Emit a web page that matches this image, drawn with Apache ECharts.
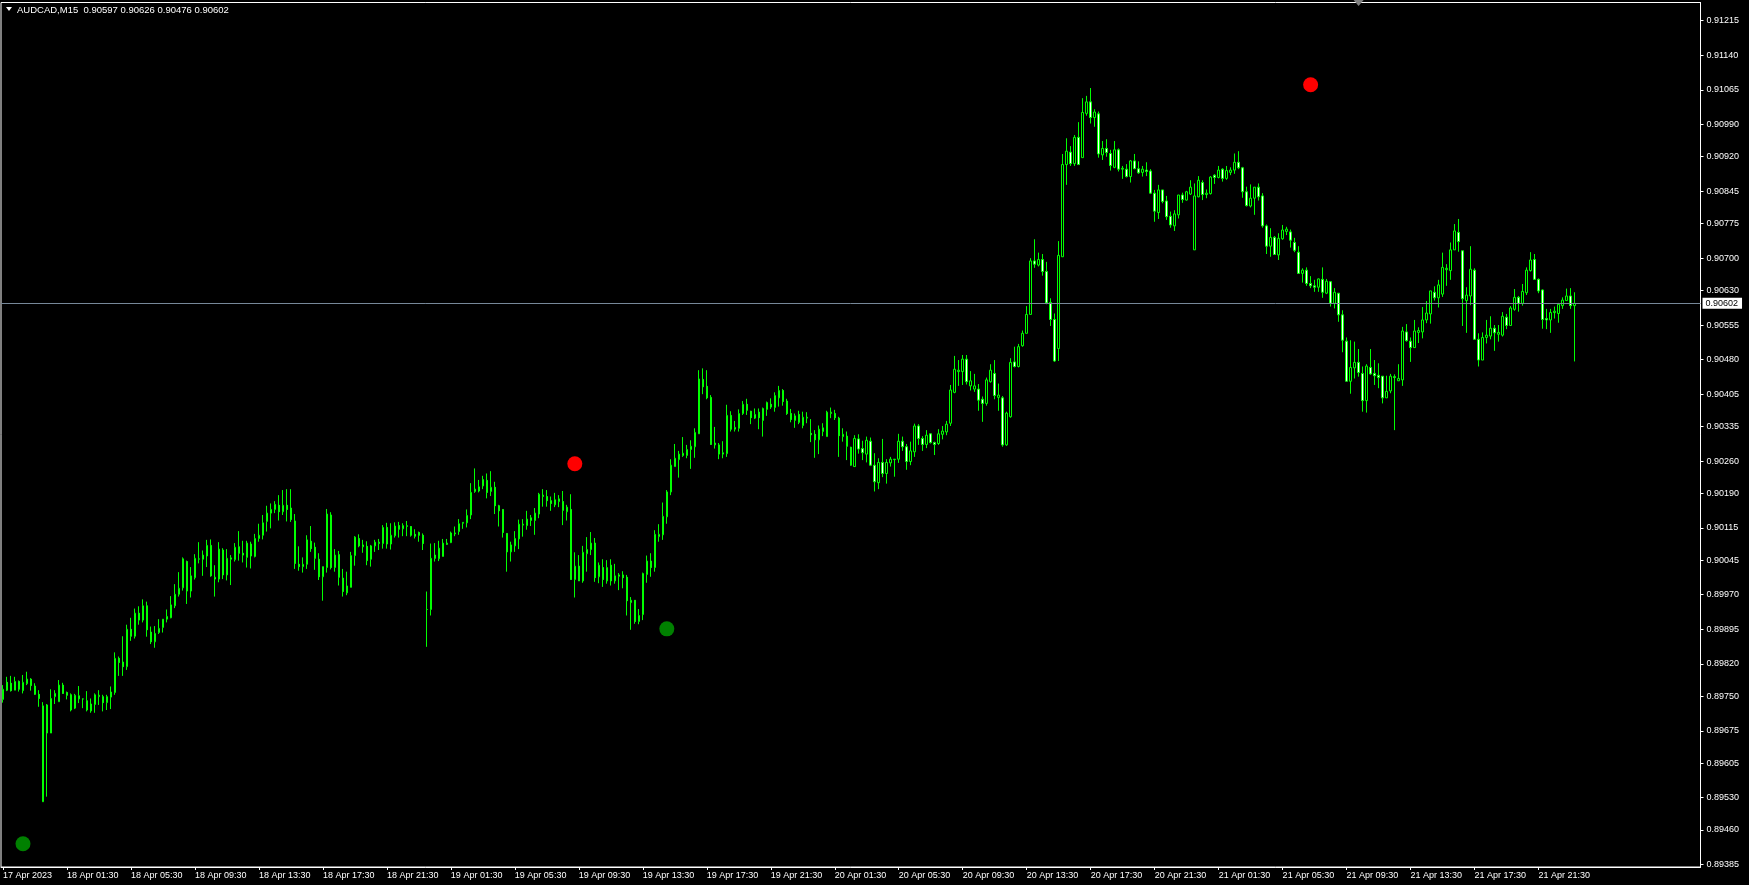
<!DOCTYPE html>
<html><head><meta charset="utf-8">
<script src="https://cdn.jsdelivr.net/npm/echarts@6/dist/echarts.min.js"></script>
<style>html,body{margin:0;padding:0;background:#000;overflow:hidden}#c{width:1749px;height:885px}</style>
</head><body><div id="c"></div>
<script>
const symbolName = 'AUDCAD,M15';
const firstBarUTC = [2023, 3, 17, 21, 30]; // 17 Apr 2023 21:30, M15 bars
const barMinutes = 15;
const totalSlots = 425; // bars + right-hand chart shift
const timeLabels = ['17 Apr 2023','18 Apr 01:30','18 Apr 05:30','18 Apr 09:30','18 Apr 13:30','18 Apr 17:30','18 Apr 21:30',
  '19 Apr 01:30','19 Apr 05:30','19 Apr 09:30','19 Apr 13:30','19 Apr 17:30','19 Apr 21:30',
  '20 Apr 01:30','20 Apr 05:30','20 Apr 09:30','20 Apr 13:30','20 Apr 17:30','20 Apr 21:30',
  '21 Apr 01:30','21 Apr 05:30','21 Apr 09:30','21 Apr 13:30','21 Apr 17:30','21 Apr 21:30'];
const labelEvery = 16;
const priceTicks = ['0.91215','0.91140','0.91065','0.90990','0.90920','0.90845','0.90775','0.90700','0.90630','0.90555',
  '0.90480','0.90405','0.90335','0.90260','0.90190','0.90115','0.90045','0.89970','0.89895','0.89820','0.89750',
  '0.89675','0.89605','0.89530','0.89460','0.89385'];
// [open, high, low, close]
const ohlc = [
[0.89743,0.89774,0.89736,0.89765],[0.89780,0.89792,0.89761,0.89763],[0.89778,0.89794,0.89760,0.89762],[0.89763,0.89792,0.89763,0.89782],
[0.89782,0.89784,0.89760,0.89765],[0.89762,0.89796,0.89756,0.89780],[0.89777,0.89803,0.89774,0.89787],[0.89787,0.89789,0.89762,0.89773],
[0.89772,0.89778,0.89753,0.89754],[0.89754,0.89763,0.89727,0.89745],[0.89521,0.89737,0.89521,0.89729],[0.89731,0.89733,0.89532,0.89670],
[0.89670,0.89765,0.89670,0.89745],[0.89749,0.89763,0.89733,0.89756],[0.89738,0.89785,0.89738,0.89774],[0.89774,0.89779,0.89755,0.89756],
[0.89758,0.89760,0.89743,0.89752],[0.89753,0.89756,0.89717,0.89720],[0.89724,0.89755,0.89722,0.89752],[0.89744,0.89772,0.89735,0.89751],
[0.89744,0.89745,0.89724,0.89744],[0.89740,0.89761,0.89717,0.89720],[0.89718,0.89745,0.89714,0.89733],[0.89732,0.89756,0.89714,0.89753],
[0.89749,0.89763,0.89731,0.89752],[0.89749,0.89753,0.89717,0.89736],[0.89736,0.89753,0.89720,0.89749],[0.89748,0.89771,0.89722,0.89759],
[0.89758,0.89845,0.89753,0.89832],[0.89832,0.89836,0.89794,0.89823],[0.89824,0.89880,0.89794,0.89814],[0.89814,0.89905,0.89807,0.89895],
[0.89895,0.89920,0.89870,0.89880],[0.89880,0.89940,0.89875,0.89930],[0.89930,0.89945,0.89905,0.89915],[0.89915,0.89960,0.89910,0.89946],
[0.89946,0.89955,0.89879,0.89894],[0.89889,0.89901,0.89863,0.89868],[0.89868,0.89902,0.89855,0.89886],[0.89888,0.89917,0.89885,0.89897],
[0.89899,0.89917,0.89888,0.89917],[0.89917,0.89938,0.89910,0.89923],[0.89920,0.89967,0.89919,0.89948],[0.89946,0.89993,0.89941,0.89971],
[0.89971,0.90019,0.89966,0.89984],[0.89985,0.90051,0.89979,0.90048],[0.90042,0.90044,0.89950,0.89978],[0.89978,0.90030,0.89964,0.90011],
[0.90007,0.90058,0.90003,0.90049],[0.90047,0.90084,0.90038,0.90048],[0.90047,0.90066,0.90011,0.90056],[0.90054,0.90089,0.90030,0.90077],
[0.90077,0.90090,0.90009,0.90011],[0.90004,0.90034,0.89966,0.90008],[0.90004,0.90084,0.89997,0.90069],[0.90067,0.90071,0.90004,0.90013],
[0.90013,0.90069,0.90001,0.90049],[0.90047,0.90056,0.89991,0.90050],[0.90046,0.90082,0.90042,0.90073],[0.90074,0.90108,0.90044,0.90060],
[0.90060,0.90087,0.90040,0.90056],[0.90051,0.90087,0.90029,0.90082],[0.90080,0.90085,0.90027,0.90054],[0.90053,0.90102,0.90051,0.90092],
[0.90092,0.90124,0.90085,0.90099],[0.90099,0.90143,0.90090,0.90126],[0.90129,0.90163,0.90107,0.90147],[0.90147,0.90168,0.90114,0.90155],
[0.90155,0.90173,0.90147,0.90166],[0.90164,0.90186,0.90131,0.90150],[0.90150,0.90197,0.90143,0.90164],[0.90164,0.90199,0.90129,0.90155],
[0.90158,0.90199,0.90128,0.90133],[0.90130,0.90145,0.90026,0.90038],[0.90036,0.90075,0.90022,0.90031],[0.90031,0.90051,0.90018,0.90036],
[0.90036,0.90099,0.90026,0.90089],[0.90086,0.90119,0.90063,0.90070],[0.90073,0.90083,0.90024,0.90049],[0.90047,0.90060,0.90002,0.90009],
[0.90009,0.90031,0.89957,0.90031],[0.90029,0.90156,0.90018,0.90145],[0.90143,0.90149,0.90025,0.90029],[0.90029,0.90069,0.90020,0.90056],
[0.90057,0.90065,0.89990,0.90008],[0.90006,0.90026,0.89966,0.89977],[0.89974,0.90020,0.89969,0.89989],[0.89986,0.90063,0.89986,0.90055],
[0.90055,0.90097,0.90033,0.90095],[0.90092,0.90101,0.90073,0.90076],[0.90074,0.90089,0.90061,0.90078],[0.90075,0.90086,0.90034,0.90044],
[0.90047,0.90078,0.90031,0.90076],[0.90076,0.90089,0.90063,0.90084],[0.90081,0.90091,0.90067,0.90084],[0.90081,0.90121,0.90070,0.90116],
[0.90116,0.90126,0.90070,0.90080],[0.90080,0.90125,0.90068,0.90099],[0.90098,0.90127,0.90094,0.90119],[0.90120,0.90128,0.90094,0.90112],
[0.90113,0.90125,0.90097,0.90120],[0.90118,0.90130,0.90097,0.90120],[0.90118,0.90119,0.90096,0.90099],[0.90101,0.90112,0.90092,0.90097],
[0.90105,0.90107,0.90085,0.90099],[0.90099,0.90103,0.90067,0.90081],[0.89938,0.89977,0.89857,0.89938],[0.89938,0.90081,0.89925,0.90049],
[0.90056,0.90082,0.90042,0.90049],[0.90048,0.90087,0.90043,0.90071],[0.90053,0.90091,0.90053,0.90082],[0.90079,0.90091,0.90078,0.90082],
[0.90083,0.90107,0.90082,0.90104],[0.90102,0.90118,0.90097,0.90104],[0.90107,0.90134,0.90100,0.90124],[0.90125,0.90127,0.90113,0.90127],
[0.90126,0.90155,0.90116,0.90142],[0.90143,0.90212,0.90134,0.90192],[0.90194,0.90244,0.90191,0.90199],[0.90195,0.90219,0.90192,0.90204],
[0.90206,0.90228,0.90199,0.90220],[0.90218,0.90233,0.90179,0.90192],[0.90194,0.90238,0.90184,0.90203],[0.90203,0.90215,0.90145,0.90163],
[0.90163,0.90165,0.90118,0.90152],[0.90155,0.90155,0.90094,0.90105],[0.90103,0.90103,0.90020,0.90063],[0.90063,0.90085,0.90042,0.90078],
[0.90076,0.90108,0.90063,0.90092],[0.90091,0.90133,0.90069,0.90123],[0.90121,0.90134,0.90096,0.90123],[0.90120,0.90152,0.90111,0.90134],
[0.90131,0.90143,0.90119,0.90137],[0.90131,0.90158,0.90100,0.90147],[0.90145,0.90191,0.90136,0.90188],[0.90183,0.90199,0.90161,0.90186],
[0.90183,0.90197,0.90161,0.90174],[0.90174,0.90183,0.90152,0.90168],[0.90165,0.90191,0.90160,0.90176],[0.90172,0.90186,0.90160,0.90178],
[0.90172,0.90195,0.90121,0.90153],[0.90150,0.90165,0.90131,0.90160],[0.90155,0.90188,0.90003,0.90003],[0.90003,0.90062,0.89964,0.90032],
[0.90032,0.90056,0.90000,0.90000],[0.90000,0.90076,0.89996,0.90062],[0.90059,0.90095,0.90020,0.90068],[0.90068,0.90106,0.90056,0.90082],
[0.90082,0.90093,0.89998,0.90007],[0.90009,0.90040,0.89995,0.90034],[0.90029,0.90047,0.89987,0.90003],[0.90000,0.90045,0.89994,0.90029],
[0.90034,0.90047,0.89990,0.90000],[0.90000,0.90037,0.89994,0.90011],[0.90010,0.90017,0.89980,0.90013],[0.90013,0.90021,0.89984,0.90007],
[0.90008,0.90013,0.89925,0.89957],[0.89953,0.89965,0.89894,0.89958],[0.89958,0.89958,0.89907,0.89912],[0.89912,0.89939,0.89906,0.89925],
[0.89927,0.90018,0.89915,0.90016],[0.90014,0.90055,0.89996,0.90043],[0.90043,0.90060,0.90009,0.90029],[0.90029,0.90110,0.90020,0.90101],
[0.90096,0.90123,0.90085,0.90101],[0.90100,0.90170,0.90089,0.90140],[0.90139,0.90197,0.90124,0.90193],[0.90193,0.90264,0.90186,0.90251],
[0.90248,0.90297,0.90248,0.90266],[0.90263,0.90282,0.90224,0.90275],[0.90272,0.90312,0.90269,0.90277],[0.90272,0.90295,0.90266,0.90285],
[0.90285,0.90305,0.90243,0.90292],[0.90291,0.90331,0.90267,0.90322],[0.90319,0.90457,0.90319,0.90438],[0.90437,0.90461,0.90405,0.90421],
[0.90422,0.90457,0.90394,0.90397],[0.90398,0.90403,0.90295,0.90296],[0.90295,0.90334,0.90287,0.90299],[0.90295,0.90299,0.90264,0.90275],
[0.90275,0.90303,0.90266,0.90278],[0.90276,0.90382,0.90269,0.90359],[0.90359,0.90368,0.90324,0.90329],[0.90329,0.90347,0.90324,0.90333],
[0.90331,0.90372,0.90324,0.90363],[0.90363,0.90390,0.90360,0.90383],[0.90383,0.90395,0.90360,0.90370],[0.90368,0.90369,0.90340,0.90354],
[0.90353,0.90374,0.90351,0.90361],[0.90366,0.90374,0.90329,0.90354],[0.90348,0.90376,0.90313,0.90374],[0.90372,0.90389,0.90358,0.90387],
[0.90383,0.90396,0.90373,0.90377],[0.90376,0.90409,0.90367,0.90402],[0.90397,0.90423,0.90378,0.90413],[0.90413,0.90416,0.90380,0.90389],
[0.90390,0.90395,0.90360,0.90363],[0.90363,0.90373,0.90344,0.90350],[0.90348,0.90363,0.90332,0.90358],[0.90361,0.90369,0.90340,0.90344],
[0.90337,0.90367,0.90331,0.90355],[0.90353,0.90366,0.90342,0.90355],[0.90320,0.90351,0.90301,0.90317],[0.90318,0.90327,0.90267,0.90306],
[0.90306,0.90337,0.90275,0.90329],[0.90324,0.90342,0.90314,0.90332],[0.90313,0.90369,0.90313,0.90366],[0.90363,0.90376,0.90353,0.90366],
[0.90363,0.90371,0.90349,0.90354],[0.90353,0.90356,0.90269,0.90315],[0.90313,0.90331,0.90302,0.90318],[0.90314,0.90324,0.90262,0.90292],
[0.90290,0.90291,0.90250,0.90251],[0.90248,0.90316,0.90248,0.90309],[0.90308,0.90318,0.90276,0.90286],[0.90287,0.90304,0.90262,0.90278],
[0.90275,0.90313,0.90257,0.90305],[0.90303,0.90311,0.90249,0.90251],[0.90251,0.90277,0.90194,0.90215],[0.90213,0.90266,0.90199,0.90257],
[0.90257,0.90308,0.90225,0.90233],[0.90233,0.90264,0.90211,0.90257],[0.90256,0.90269,0.90248,0.90264],[0.90263,0.90264,0.90226,0.90264],
[0.90264,0.90319,0.90256,0.90303],[0.90303,0.90313,0.90282,0.90291],[0.90291,0.90297,0.90241,0.90259],[0.90259,0.90302,0.90251,0.90282],
[0.90280,0.90341,0.90269,0.90336],[0.90336,0.90340,0.90295,0.90309],[0.90309,0.90314,0.90282,0.90296],[0.90296,0.90327,0.90288,0.90316],
[0.90319,0.90320,0.90298,0.90300],[0.90300,0.90302,0.90273,0.90296],[0.90298,0.90329,0.90295,0.90319],[0.90318,0.90336,0.90307,0.90325],
[0.90323,0.90347,0.90316,0.90340],[0.90342,0.90425,0.90336,0.90414],[0.90409,0.90488,0.90407,0.90459],[0.90454,0.90479,0.90423,0.90457],
[0.90454,0.90490,0.90425,0.90481],[0.90481,0.90490,0.90426,0.90432],[0.90423,0.90455,0.90413,0.90434],[0.90416,0.90449,0.90410,0.90423],
[0.90416,0.90427,0.90369,0.90392],[0.90394,0.90400,0.90345,0.90385],[0.90385,0.90441,0.90380,0.90436],[0.90432,0.90470,0.90430,0.90457],
[0.90450,0.90479,0.90394,0.90402],[0.90398,0.90428,0.90369,0.90403],[0.90397,0.90401,0.90291,0.90295],[0.90295,0.90367,0.90293,0.90364],
[0.90356,0.90483,0.90354,0.90474],[0.90475,0.90508,0.90463,0.90465],[0.90465,0.90514,0.90463,0.90508],[0.90510,0.90543,0.90508,0.90537],
[0.90537,0.90596,0.90537,0.90578],[0.90578,0.90700,0.90578,0.90694],[0.90694,0.90741,0.90679,0.90687],[0.90685,0.90712,0.90682,0.90697],
[0.90697,0.90709,0.90662,0.90671],[0.90671,0.90692,0.90600,0.90603],[0.90604,0.90613,0.90553,0.90567],[0.90567,0.90580,0.90475,0.90477],
[0.90504,0.90737,0.90477,0.90706],[0.90703,0.90926,0.90703,0.90903],[0.90903,0.90960,0.90859,0.90932],[0.90930,0.90943,0.90900,0.90905],
[0.90905,0.90967,0.90900,0.90962],[0.90962,0.90995,0.90902,0.90903],[0.90918,0.91047,0.90918,0.91016],[0.91014,0.91052,0.91009,0.91039],
[0.91039,0.91069,0.90992,0.91005],[0.91005,0.91023,0.90985,0.91017],[0.91013,0.91018,0.90918,0.90926],[0.90924,0.90954,0.90913,0.90938],
[0.90938,0.90958,0.90920,0.90929],[0.90927,0.90935,0.90890,0.90901],[0.90897,0.90954,0.90895,0.90935],[0.90935,0.90938,0.90888,0.90893],
[0.90893,0.90900,0.90872,0.90895],[0.90893,0.90904,0.90875,0.90877],[0.90877,0.90913,0.90864,0.90911],[0.90911,0.90926,0.90893,0.90894],
[0.90894,0.90910,0.90883,0.90885],[0.90886,0.90900,0.90877,0.90893],[0.90891,0.90908,0.90878,0.90888],[0.90889,0.90893,0.90839,0.90841],
[0.90841,0.90848,0.90779,0.90802],[0.90799,0.90859,0.90785,0.90848],[0.90848,0.90848,0.90819,0.90823],[0.90824,0.90835,0.90783,0.90790],
[0.90791,0.90801,0.90766,0.90772],[0.90770,0.90804,0.90759,0.90796],[0.90794,0.90837,0.90786,0.90837],[0.90837,0.90842,0.90820,0.90827],
[0.90826,0.90846,0.90825,0.90844],[0.90839,0.90869,0.90837,0.90854],[0.90718,0.90862,0.90718,0.90835],[0.90833,0.90878,0.90832,0.90869],
[0.90864,0.90869,0.90826,0.90838],[0.90838,0.90849,0.90830,0.90841],[0.90840,0.90878,0.90838,0.90876],[0.90880,0.90882,0.90861,0.90875],
[0.90875,0.90900,0.90873,0.90891],[0.90893,0.90895,0.90866,0.90873],[0.90873,0.90900,0.90870,0.90890],[0.90886,0.90897,0.90880,0.90891],
[0.90891,0.90927,0.90883,0.90908],[0.90908,0.90932,0.90893,0.90896],[0.90896,0.90898,0.90831,0.90844],[0.90844,0.90855,0.90812,0.90814],
[0.90813,0.90860,0.90810,0.90830],[0.90830,0.90854,0.90794,0.90854],[0.90854,0.90862,0.90825,0.90833],[0.90835,0.90841,0.90766,0.90770],
[0.90770,0.90773,0.90709,0.90726],[0.90726,0.90765,0.90703,0.90745],[0.90745,0.90748,0.90707,0.90708],[0.90707,0.90754,0.90696,0.90743],
[0.90742,0.90772,0.90740,0.90761],[0.90758,0.90768,0.90750,0.90763],[0.90757,0.90762,0.90723,0.90739],[0.90734,0.90744,0.90713,0.90717],
[0.90713,0.90726,0.90667,0.90667],[0.90667,0.90678,0.90647,0.90674],[0.90674,0.90680,0.90640,0.90645],[0.90645,0.90661,0.90635,0.90640],
[0.90640,0.90653,0.90627,0.90637],[0.90637,0.90656,0.90627,0.90655],[0.90654,0.90680,0.90614,0.90626],[0.90624,0.90655,0.90622,0.90650],
[0.90649,0.90650,0.90595,0.90602],[0.90602,0.90635,0.90591,0.90626],[0.90624,0.90624,0.90562,0.90577],[0.90577,0.90587,0.90496,0.90522],
[0.90520,0.90528,0.90432,0.90433],[0.90433,0.90522,0.90406,0.90463],[0.90462,0.90519,0.90439,0.90474],[0.90474,0.90503,0.90443,0.90452],
[0.90450,0.90465,0.90367,0.90391],[0.90391,0.90470,0.90365,0.90466],[0.90463,0.90503,0.90447,0.90449],[0.90450,0.90479,0.90425,0.90445],
[0.90446,0.90472,0.90418,0.90441],[0.90444,0.90444,0.90385,0.90397],[0.90397,0.90445,0.90397,0.90411],[0.90412,0.90449,0.90407,0.90444],
[0.90443,0.90448,0.90327,0.90441],[0.90434,0.90470,0.90434,0.90439],[0.90436,0.90551,0.90423,0.90542],[0.90540,0.90557,0.90519,0.90521],
[0.90520,0.90528,0.90475,0.90506],[0.90506,0.90566,0.90506,0.90542],[0.90539,0.90550,0.90516,0.90543],[0.90540,0.90594,0.90526,0.90566],
[0.90566,0.90607,0.90559,0.90581],[0.90579,0.90629,0.90558,0.90629],[0.90626,0.90639,0.90608,0.90614],[0.90614,0.90653,0.90593,0.90642],
[0.90622,0.90712,0.90616,0.90680],[0.90675,0.90687,0.90640,0.90678],[0.90673,0.90734,0.90653,0.90718],[0.90718,0.90774,0.90718,0.90759],
[0.90756,0.90785,0.90714,0.90736],[0.90716,0.90716,0.90553,0.90612],[0.90608,0.90637,0.90538,0.90620],[0.90618,0.90726,0.90598,0.90676],
[0.90674,0.90678,0.90524,0.90524],[0.90524,0.90537,0.90465,0.90479],[0.90479,0.90539,0.90479,0.90528],[0.90528,0.90566,0.90515,0.90533],
[0.90531,0.90574,0.90524,0.90548],[0.90548,0.90555,0.90499,0.90538],[0.90535,0.90555,0.90519,0.90539],[0.90533,0.90583,0.90530,0.90574],
[0.90572,0.90579,0.90546,0.90554],[0.90554,0.90596,0.90554,0.90592],[0.90589,0.90633,0.90586,0.90615],[0.90615,0.90618,0.90584,0.90602],
[0.90602,0.90644,0.90597,0.90628],[0.90625,0.90680,0.90620,0.90674],[0.90673,0.90713,0.90671,0.90696],[0.90697,0.90709,0.90653,0.90654],
[0.90654,0.90656,0.90624,0.90629],[0.90631,0.90632,0.90547,0.90567],[0.90569,0.90590,0.90546,0.90566],[0.90566,0.90590,0.90538,0.90582],
[0.90582,0.90595,0.90569,0.90585],[0.90580,0.90603,0.90560,0.90600],[0.90597,0.90615,0.90590,0.90609],[0.90608,0.90634,0.90608,0.90618],
[0.90618,0.90635,0.90590,0.90597],[0.90597,0.90626,0.90476,0.90602]
];
// signal dots: [bar index, price]
const buySignals = [[5, 0.89430], [166, 0.89896]];
const sellSignals = [[143, 0.90254], [327, 0.91076]];
const shiftMarkerBar = 339;

// ---- build ----
const months = ['Jan','Feb','Mar','Apr','May','Jun','Jul','Aug','Sep','Oct','Nov','Dec'];
const pad = n => String(n).padStart(2, '0');
const t0 = Date.UTC(firstBarUTC[0], firstBarUTC[1], firstBarUTC[2], firstBarUTC[3], firstBarUTC[4]);
const categories = [];
for (let i = 0; i < totalSlots; i++) {
  const d = new Date(t0 + i * barMinutes * 60000);
  categories.push(d.getUTCDate() + ' ' + months[d.getUTCMonth()] + ' ' + pad(d.getUTCHours()) + ':' + pad(d.getUTCMinutes()));
}
const candleData = ohlc.map(r => [r[0], r[3], r[2], r[1]]);
const last = ohlc[ohlc.length - 1];
const lastClose = last[3];
const titleText = symbolName + '  ' + last.map(v => v.toFixed(5)).join(' ');
const tickVals = priceTicks.map(Number);
const isLabelIdx = i => i % labelEvery === 0 && i / labelEvery < timeLabels.length;
const FONT = 'Liberation Sans';

const chart = echarts.init(document.getElementById('c'), null, {renderer: 'canvas'});
chart.setOption({
  backgroundColor: '#000000',
  animation: false,
  grid: {left: 0.5, top: 2.5, width: 1700, height: 864.5, show: true, borderColor: '#ffffff', borderWidth: 1, backgroundColor: '#000000'},
  xAxis: {
    type: 'category', data: categories, boundaryGap: true,
    axisLine: {show: true, lineStyle: {color: '#ffffff'}},
    axisTick: {show: true, interval: isLabelIdx, alignWithLabel: true, length: 3, lineStyle: {color: '#ffffff'}},
    axisLabel: {interval: isLabelIdx, formatter: (v, i) => timeLabels[i / labelEvery] || '', align: 'left',
      color: '#ffffff', fontFamily: FONT, fontSize: 9, margin: 4},
    splitLine: {show: false}
  },
  yAxis: {
    type: 'value', position: 'right', min: 0.893795, max: 0.912545,
    axisLine: {show: true, lineStyle: {color: '#ffffff'}},
    axisTick: {show: true, customValues: tickVals, length: 3, lineStyle: {color: '#ffffff'}},
    axisLabel: {customValues: tickVals, formatter: v => v.toFixed(5), color: '#ffffff', fontFamily: FONT, fontSize: 9, margin: 6},
    splitLine: {show: false}
  },
  series: [
    {
      type: 'candlestick', data: candleData, barWidth: 2,
      itemStyle: {color: '#000000', color0: '#ffffff', borderColor: '#00ff00', borderColor0: '#00ff00', borderColorDoji: '#00ff00', borderWidth: 1}
    },
    {type: 'scatter', data: buySignals, symbol: 'circle', symbolSize: 15, itemStyle: {color: '#008000', opacity: 1}, z: 5},
    {
      type: 'scatter', data: sellSignals, symbol: 'circle', symbolSize: 15, itemStyle: {color: '#ff0000', opacity: 1}, z: 5,
      markLine: {
        symbol: 'none', silent: true, animation: false, precision: 5,
        lineStyle: {color: '#778899', width: 1, type: 'solid', opacity: 1},
        label: {show: true, position: 'end', distance: 2, formatter: () => lastClose.toFixed(5), color: '#000000', backgroundColor: '#ffffff',
          fontFamily: FONT, fontSize: 9, padding: [1, 4, 0, 3], lineHeight: 10},
        data: [{yAxis: lastClose}]
      }
    }
  ]
});
const sx = chart.convertToPixel({xAxisIndex: 0}, shiftMarkerBar);
chart.setOption({graphic: [
  {type: 'polygon', shape: {points: [[6, 7], [12, 7], [9, 11]]}, style: {fill: '#ffffff'}},
  {type: 'text', left: 17, top: 5, style: {text: titleText, fill: '#ffffff', fontFamily: FONT, fontSize: 9.5}},
  {type: 'polygon', shape: {points: [[sx - 5, 0], [sx + 5, 0], [sx, 6]]}, style: {fill: '#808080'}}
]});
</script>
</body></html>
